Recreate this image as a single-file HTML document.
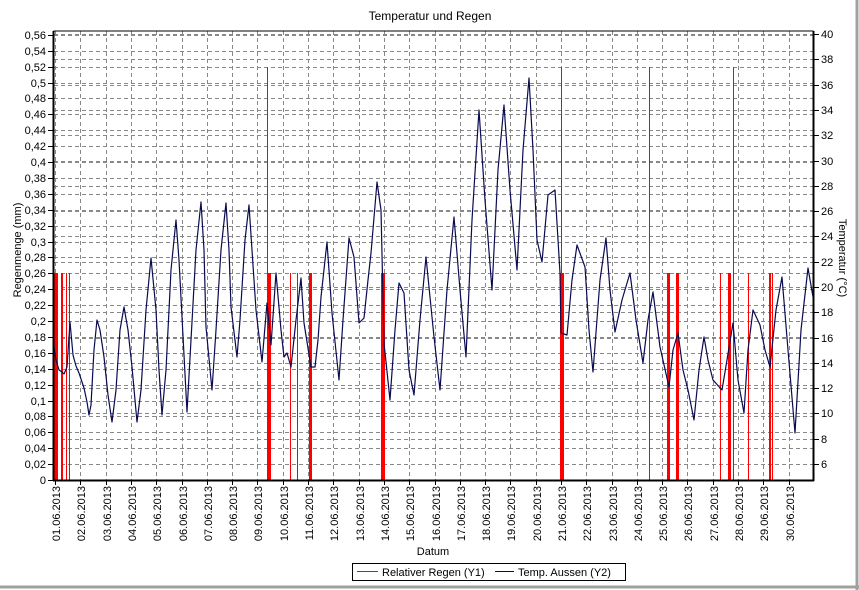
<!DOCTYPE html>
<html><head><meta charset="utf-8"><style>
body{margin:0;background:#fff;}
svg{display:block;font-family:"Liberation Sans",sans-serif;}
</style></head><body>
<svg width="859" height="590" viewBox="0 0 859 590" xmlns="http://www.w3.org/2000/svg">
<rect width="859" height="590" fill="#fff"/>
<line x1="0" y1="587" x2="859" y2="587" stroke="#a0a0a0" stroke-width="3"/>
<line x1="857" y1="0" x2="857" y2="590" stroke="#a0a0a0" stroke-width="3"/>
<text x="430" y="20" font-size="12" text-anchor="middle">Temperatur und Regen</text>
<path stroke="#888" stroke-width="1" stroke-dasharray="4,3" fill="none" shape-rendering="crispEdges" d="
M55.5 31V480 M80.5 31V480 M106.5 31V480 M131.5 31V480 M156.5 31V480 M182.5 31V480 M207.5 31V480 M232.5 31V480 M257.5 31V480 M283.5 31V480 M308.5 31V480 M333.5 31V480 M359.5 31V480 M384.5 31V480 M409.5 31V480 M435.5 31V480 M460.5 31V480 M485.5 31V480 M510.5 31V480 M536.5 31V480 M561.5 31V480 M586.5 31V480 M612.5 31V480 M637.5 31V480 M662.5 31V480 M687.5 31V480 M713.5 31V480 M738.5 31V480 M763.5 31V480 M789.5 31V480
M54 464.5H813 M54 448.5H813 M54 432.5H813 M54 416.5H813 M54 401.5H813 M54 385.5H813 M54 369.5H813 M54 353.5H813 M54 337.5H813 M54 321.5H813 M54 305.5H813 M54 289.5H813 M54 273.5H813 M54 257.5H813 M54 242.5H813 M54 226.5H813 M54 210.5H813 M54 194.5H813 M54 178.5H813 M54 162.5H813 M54 146.5H813 M54 130.5H813 M54 114.5H813 M54 98.5H813 M54 83.5H813 M54 67.5H813 M54 51.5H813 M54 35.5H813
M54 439.5H813 M54 413.5H813 M54 388.5H813 M54 363.5H813 M54 338.5H813 M54 312.5H813 M54 287.5H813 M54 262.5H813 M54 236.5H813 M54 211.5H813 M54 186.5H813 M54 161.5H813 M54 135.5H813 M54 110.5H813 M54 85.5H813 M54 59.5H813 M54 34.5H813"/>
<g fill="#ff0000" shape-rendering="crispEdges">
<rect x="54" y="273" width="4" height="207"/><rect x="61" y="273" width="2" height="207"/><rect x="66" y="273" width="1" height="207"/><rect x="69" y="273" width="1" height="207"/>
<rect x="267" y="67" width="1" height="413"/><rect x="267" y="273" width="4" height="207"/><rect x="290" y="273" width="1" height="207"/><rect x="297" y="273" width="1" height="207"/><rect x="309" y="273" width="3" height="207"/><rect x="381" y="273" width="4" height="207"/>
<rect x="561" y="67" width="1" height="413"/><rect x="560" y="273" width="4" height="207"/><rect x="649" y="67" width="1" height="413"/><rect x="667" y="273" width="3" height="207"/><rect x="676" y="273" width="3" height="207"/><rect x="720" y="273" width="1" height="207"/><rect x="728" y="273" width="3" height="207"/><rect x="733" y="67" width="1" height="413"/><rect x="748" y="273" width="1" height="207"/><rect x="769" y="273" width="2" height="207"/><rect x="772" y="273" width="1" height="207"/>
</g>
<polyline fill="none" stroke="#0a0a50" stroke-width="1.2" stroke-linejoin="round" points="54,347 56,360 59,370 62,372 64,374 67,367 70,322 73,355 76,366 79,373 82,382 84,388 87,402 89,415 91,405 94,350 97,320 100,330 104,357 108,395 112,422 116,390 120,330 124,307 128,330 132,367 137,422 141,390 146,310 151,258 156,310 159,370 162,415 166,370 171,270 176,220 179,260 182,317 187,412 191,340 196,250 201,202 204,250 206,327 212,390 216,330 221,250 226,203 229,250 231,307 237,357 240,320 245,240 249,205 252,250 256,310 262,362 267,303 271,345 276,273 281,330 284,357 287,353 291,367 296,320 301,278 304,323 311,367 315,367 318,340 321,297 327,242 332,313 339,380 343,320 349,238 354,257 359,323 364,318 368,280 371,253 377,182 381,210 384,343 390,400 395,330 399,283 404,293 409,370 414,395 420,320 426,257 434,337 440,390 447,290 454,217 460,290 466,357 472,220 479,110 485,200 492,290 498,170 504,105 510,190 517,270 523,150 529,78 533,150 537,240 542,262 548,195 555,190 560,273 561,333 567,335 572,280 577,245 585,267 589,330 593,372 600,280 606,238 610,290 615,332 622,300 630,273 636,320 643,363 648,320 653,292 660,347 669,387 673,350 678,333 683,370 688,390 694,420 699,370 704,337 708,360 713,380 722,390 727,360 733,323 738,380 744,413 748,350 753,310 760,325 765,350 770,367 776,310 782,277 788,350 795,433 801,330 808,268 813,297"/>
<rect x="54" y="31" width="759" height="449" fill="none" stroke="#000" stroke-width="1"/>
<line x1="53.5" y1="31" x2="53.5" y2="481" stroke="#000" stroke-width="2"/>
<line x1="813.5" y1="31" x2="813.5" y2="481" stroke="#000" stroke-width="2"/>
<line x1="53" y1="480.5" x2="814" y2="480.5" stroke="#000" stroke-width="2"/>
<path stroke="#000" fill="none" shape-rendering="crispEdges" d="M55.5 480V485 M80.5 480V485 M106.5 480V485 M131.5 480V485 M156.5 480V485 M182.5 480V485 M207.5 480V485 M232.5 480V485 M257.5 480V485 M283.5 480V485 M308.5 480V485 M333.5 480V485 M359.5 480V485 M384.5 480V485 M409.5 480V485 M435.5 480V485 M460.5 480V485 M485.5 480V485 M510.5 480V485 M536.5 480V485 M561.5 480V485 M586.5 480V485 M612.5 480V485 M637.5 480V485 M662.5 480V485 M687.5 480V485 M713.5 480V485 M738.5 480V485 M763.5 480V485 M789.5 480V485
M48 480.5H54 M48 464.5H54 M48 448.5H54 M48 432.5H54 M48 416.5H54 M48 401.5H54 M48 385.5H54 M48 369.5H54 M48 353.5H54 M48 337.5H54 M48 321.5H54 M48 305.5H54 M48 289.5H54 M48 273.5H54 M48 257.5H54 M48 242.5H54 M48 226.5H54 M48 210.5H54 M48 194.5H54 M48 178.5H54 M48 162.5H54 M48 146.5H54 M48 130.5H54 M48 114.5H54 M48 98.5H54 M48 83.5H54 M48 67.5H54 M48 51.5H54 M48 35.5H54
M813 464.5H819 M813 439.5H819 M813 413.5H819 M813 388.5H819 M813 363.5H819 M813 338.5H819 M813 312.5H819 M813 287.5H819 M813 262.5H819 M813 236.5H819 M813 211.5H819 M813 186.5H819 M813 161.5H819 M813 135.5H819 M813 110.5H819 M813 85.5H819 M813 59.5H819 M813 34.5H819"/>
<g font-size="11" text-anchor="end">
<text x="46" y="484">0</text><text x="46" y="468">0,02</text><text x="46" y="452">0,04</text><text x="46" y="436">0,06</text><text x="46" y="420">0,08</text><text x="46" y="405">0,1</text><text x="46" y="389">0,12</text><text x="46" y="373">0,14</text><text x="46" y="357">0,16</text><text x="46" y="341">0,18</text><text x="46" y="325">0,2</text><text x="46" y="309">0,22</text><text x="46" y="293">0,24</text><text x="46" y="277">0,26</text><text x="46" y="261">0,28</text><text x="46" y="246">0,3</text><text x="46" y="230">0,32</text><text x="46" y="214">0,34</text><text x="46" y="198">0,36</text><text x="46" y="182">0,38</text><text x="46" y="166">0,4</text><text x="46" y="150">0,42</text><text x="46" y="134">0,44</text><text x="46" y="118">0,46</text><text x="46" y="102">0,48</text><text x="46" y="87">0,5</text><text x="46" y="71">0,52</text><text x="46" y="55">0,54</text><text x="46" y="39">0,56</text>
</g>
<g font-size="11">
<text x="821" y="468">6</text><text x="821" y="443">8</text><text x="821" y="417">10</text><text x="821" y="392">12</text><text x="821" y="367">14</text><text x="821" y="342">16</text><text x="821" y="316">18</text><text x="821" y="291">20</text><text x="821" y="266">22</text><text x="821" y="240">24</text><text x="821" y="215">26</text><text x="821" y="190">28</text><text x="821" y="165">30</text><text x="821" y="139">32</text><text x="821" y="114">34</text><text x="821" y="89">36</text><text x="821" y="63">38</text><text x="821" y="38">40</text>
</g>
<g font-size="11" text-anchor="end">
<text transform="translate(60,486) rotate(-90)">01.06.2013</text>
<text transform="translate(85,486) rotate(-90)">02.06.2013</text>
<text transform="translate(111,486) rotate(-90)">03.06.2013</text>
<text transform="translate(136,486) rotate(-90)">04.06.2013</text>
<text transform="translate(161,486) rotate(-90)">05.06.2013</text>
<text transform="translate(187,486) rotate(-90)">06.06.2013</text>
<text transform="translate(212,486) rotate(-90)">07.06.2013</text>
<text transform="translate(237,486) rotate(-90)">08.06.2013</text>
<text transform="translate(262,486) rotate(-90)">09.06.2013</text>
<text transform="translate(288,486) rotate(-90)">10.06.2013</text>
<text transform="translate(313,486) rotate(-90)">11.06.2013</text>
<text transform="translate(338,486) rotate(-90)">12.06.2013</text>
<text transform="translate(364,486) rotate(-90)">13.06.2013</text>
<text transform="translate(389,486) rotate(-90)">14.06.2013</text>
<text transform="translate(414,486) rotate(-90)">15.06.2013</text>
<text transform="translate(440,486) rotate(-90)">16.06.2013</text>
<text transform="translate(465,486) rotate(-90)">17.06.2013</text>
<text transform="translate(490,486) rotate(-90)">18.06.2013</text>
<text transform="translate(515,486) rotate(-90)">19.06.2013</text>
<text transform="translate(541,486) rotate(-90)">20.06.2013</text>
<text transform="translate(566,486) rotate(-90)">21.06.2013</text>
<text transform="translate(591,486) rotate(-90)">22.06.2013</text>
<text transform="translate(617,486) rotate(-90)">23.06.2013</text>
<text transform="translate(642,486) rotate(-90)">24.06.2013</text>
<text transform="translate(667,486) rotate(-90)">25.06.2013</text>
<text transform="translate(692,486) rotate(-90)">26.06.2013</text>
<text transform="translate(718,486) rotate(-90)">27.06.2013</text>
<text transform="translate(743,486) rotate(-90)">28.06.2013</text>
<text transform="translate(768,486) rotate(-90)">29.06.2013</text>
<text transform="translate(794,486) rotate(-90)">30.06.2013</text>
</g>
<text x="433" y="555" font-size="11" text-anchor="middle">Datum</text>
<text transform="translate(21,250) rotate(-90)" font-size="11" text-anchor="middle">Regenmenge (mm)</text>
<text transform="translate(839,258) rotate(90)" font-size="11" text-anchor="middle">Temperatur (°C)</text>
<rect x="352.5" y="563.5" width="273" height="17" fill="#fff" stroke="#000" stroke-width="1"/>
<rect x="357" y="571" width="21" height="1" fill="#ff0000"/>
<text x="382" y="576" font-size="11">Relativer Regen (Y1)</text>
<rect x="495" y="571" width="19" height="1" fill="#0a0a50"/>
<text x="518" y="576" font-size="11">Temp. Aussen (Y2)</text>
</svg>
</body></html>
